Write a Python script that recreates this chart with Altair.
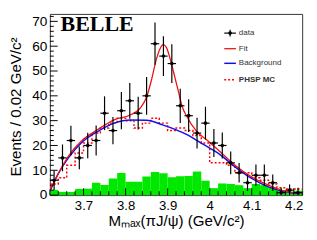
import altair as alt
import pandas as pd

# ---------------- data ----------------
bin_lo = [3.62, 3.64, 3.66, 3.68, 3.70, 3.72, 3.74, 3.76, 3.78, 3.80,
          3.82, 3.84, 3.86, 3.88, 3.90, 3.92, 3.94, 3.96, 3.98, 4.00,
          4.02, 4.04, 4.06, 4.08, 4.10, 4.12, 4.14, 4.16, 4.18, 4.20]

data_y = [6, 15, 22, 15, 20, 22, 33, 26, 34, 38,
          33, 40, 61, 56, 53, 36, 32, 25, 29, 21,
          20, 13, 9, 5, 8, 8, 5, 1, 2, 1]
data_err = [3.9, 5.4, 5.9, 4.6, 5.1, 6.0, 6.8, 5.5, 7.5, 7.2,
            6.6, 7.6, 8.5, 8.0, 7.8, 6.9, 6.6, 6.2, 6.6, 5.6,
            5.2, 4.6, 3.9, 3.3, 4.3, 4.3, 3.3, 2.0, 2.3, 2.0]

green_y = [2.1, 1.3, 1.3, 2.5, 2.6, 5.0, 4.1, 6.7, 8.9, 5.4,
           5.4, 7.5, 9.3, 8.8, 7.2, 7.6, 7.7, 9.5, 5.8, 2.8,
           4.7, 4.5, 4.0, 2.8, 4.5, 4.0, 3.1, 2.0, 1.2, 1.8]

phsp_y = [4.5, 7, 12, 17, 21, 25, 27, 29, 31, 30,
          27, 29, 31, 29, 26, 27, 26, 24, 21, 13,
          13, 12, 9, 9, 7, 6, 4.5, 3, 2.5, 2.5]

bg_x = [3.62, 3.638, 3.665, 3.695, 3.734, 3.773, 3.811, 3.85, 3.888, 3.919,
        3.946, 3.984, 4.023, 4.061, 4.10, 4.138, 4.177, 4.215]
bg_y = [1.5, 8.0, 15.2, 21.1, 25.7, 29.0, 30.3, 30.2, 28.3, 26.4,
        24.4, 20.5, 16.5, 11.3, 6.7, 3.4, 1.4, 0.5]

fit_x = [3.62, 3.665, 3.695, 3.734, 3.773, 3.811, 3.834, 3.85, 3.861, 3.873,
         3.882, 3.889, 3.897, 3.905, 3.915, 3.926, 3.935, 3.946, 3.969, 3.992,
         4.023, 4.061, 4.10, 4.138, 4.177, 4.215]
fit_y = [2.0, 15.9, 21.8, 26.4, 30.3, 32.3, 34.9, 39.5, 46.0, 54.6,
         59.0, 60.6, 59.5, 55.5, 49.0, 41.5, 35.5, 31.6, 25.7, 22.4,
         17.8, 11.9, 7.3, 4.1, 1.7, 0.8]

x_ticks_major = [3.7, 3.8, 3.9, 4.0, 4.1, 4.2]
x_ticks_minor = [3.62, 3.64, 3.66, 3.68, 3.72, 3.74, 3.76, 3.78, 3.82, 3.84,
                 3.86, 3.88, 3.92, 3.94, 3.96, 3.98, 4.02, 4.04, 4.06, 4.08,
                 4.12, 4.14, 4.16, 4.18, 4.22]
y_ticks_major = [0, 10, 20, 30, 40, 50, 60, 70]
y_ticks_minor = [v for v in range(0, 73, 2) if v % 10 != 0]

legend_labels = ["data", "Fit", "Background", "PHSP MC"]
x_title = "Mₘₐₓ(πJ/ψ) (GeV/c²)"
y_title = "Events / 0.02 GeV/c²"
exp_label = "BELLE"

# ---------------- tables ----------------
bin_hi = [round(v + 0.02, 2) for v in bin_lo]
bin_mid = [round(v + 0.01, 3) for v in bin_lo]

hist = pd.DataFrame({"lo": bin_lo, "hi": bin_hi, "n": green_y})
pts = pd.DataFrame({
    "x": bin_mid, "y": data_y,
    "ylo": [max(0, y - e) for y, e in zip(data_y, data_err)],
    "yhi": [y + e for y, e in zip(data_y, data_err)],
    "xl": bin_lo, "xh": bin_hi,
})
phsp = pd.DataFrame({"x": bin_lo + [bin_hi[-1]], "y": phsp_y + [phsp_y[-1]]})
bg = pd.DataFrame({"x": bg_x, "y": bg_y})
fit = pd.DataFrame({"x": fit_x, "y": fit_y})
xt_maj = pd.DataFrame({"v": x_ticks_major})
xt_min = pd.DataFrame({"v": x_ticks_minor})
yt_maj = pd.DataFrame({"v": y_ticks_major})
yt_min = pd.DataFrame({"v": y_ticks_minor})
one = pd.DataFrame({"k": [0]})

W, H = 259, 186
FONT = "Liberation Sans"
xs = alt.Scale(domain=[3.62, 4.22], nice=False, zero=False)
ys = alt.Scale(domain=[0, 73], nice=False, zero=False)

x_axis = alt.Axis(values=x_ticks_major, labelExpr="format(datum.value, '.1~f')",
                  ticks=False, domain=False, grid=False, labelFontSize=13.5,
                  labelPadding=3.5, labelFlush=False, labelOverlap=False,
                  titleY=31)
y_axis = alt.Axis(values=y_ticks_major, format="d",
                  ticks=False, domain=False, grid=False,
                  labelPadding=3, labelFlush=False, labelOverlap=False,
                  titleAngle=270, titleX=-30, titleY=95)


def X(f):
    return alt.X(f, type="quantitative", scale=xs, axis=x_axis, title=x_title)


def Y(f):
    return alt.Y(f, type="quantitative", scale=ys, axis=y_axis, title=y_title)


layers = []
layers.append(alt.Chart(hist).mark_rect(color="#00e800", strokeWidth=0).encode(
    x=X("lo"), x2="hi", y=Y("n"), y2=alt.datum(0)))
layers.append(alt.Chart(phsp).mark_line(interpolate="step-after", color="#ff0000",
                                         strokeWidth=1.5, strokeDash=[2, 2]).encode(
    x=X("x"), y=Y("y")))
layers.append(alt.Chart(bg).mark_line(interpolate="monotone", color="#1010ee",
                                       strokeWidth=1.5).encode(x=X("x"), y=Y("y")))
layers.append(alt.Chart(fit).mark_line(interpolate="monotone", color="#ee1010",
                                        strokeWidth=1.3).encode(x=X("x"), y=Y("y")))
layers.append(alt.Chart(pts).mark_rule(color="black", strokeWidth=1.2).encode(
    x=X("x"), y=Y("ylo"), y2="yhi"))
layers.append(alt.Chart(pts).mark_rule(color="black", strokeWidth=1.2).encode(
    x=X("xl"), x2="xh", y=Y("y")))
layers.append(alt.Chart(pts).mark_point(filled=True, shape="circle", size=14,
                                         color="black", opacity=1).encode(
    x=X("x"), y=Y("y")))
# inward ticks
layers.append(alt.Chart(yt_maj).mark_rule(color="black", strokeWidth=1).encode(
    y=Y("v"), x=alt.value(0), x2=alt.value(8)))
layers.append(alt.Chart(yt_min).mark_rule(color="black", strokeWidth=1).encode(
    y=Y("v"), x=alt.value(0), x2=alt.value(4)))
layers.append(alt.Chart(xt_maj).mark_rule(color="black", strokeWidth=1).encode(
    x=X("v"), y=alt.value(H), y2=alt.value(H - 7)))
layers.append(alt.Chart(xt_min).mark_rule(color="black", strokeWidth=1).encode(
    x=X("v"), y=alt.value(H), y2=alt.value(H - 4)))

# legend
LX0, LX1, LT = 179, 191, 194
leg_y = [19.7, 35.7, 50.7, 67.5]
layers.append(alt.Chart(one).mark_rule(color="black", strokeWidth=1.2).encode(
    x=alt.value(LX0), x2=alt.value(LX1), y=alt.value(leg_y[0])))
layers.append(alt.Chart(one).mark_rule(color="black", strokeWidth=1.2).encode(
    x=alt.value((LX0 + LX1) / 2), y=alt.value(leg_y[0] - 3.5), y2=alt.value(leg_y[0] + 3.5)))
layers.append(alt.Chart(one).mark_point(filled=True, shape="circle", size=14,
                                         color="black", opacity=1).encode(
    x=alt.value((LX0 + LX1) / 2), y=alt.value(leg_y[0])))
layers.append(alt.Chart(one).mark_rule(color="#ee1010", strokeWidth=1.3).encode(
    x=alt.value(LX0), x2=alt.value(LX1), y=alt.value(leg_y[1])))
layers.append(alt.Chart(one).mark_rule(color="#1010ee", strokeWidth=1.5).encode(
    x=alt.value(LX0), x2=alt.value(LX1), y=alt.value(leg_y[2])))
layers.append(alt.Chart(one).mark_rule(color="#ff0000", strokeWidth=1.5, strokeDash=[2, 2]).encode(
    x=alt.value(LX0), x2=alt.value(LX1), y=alt.value(leg_y[3])))
for i, lab in enumerate(legend_labels):
    kw = {"fontWeight": "bold"} if lab == "PHSP MC" else {}
    layers.append(alt.Chart(one).mark_text(align="left", baseline="middle", font=FONT,
                                            fontSize=8.2, color="#333333", **kw).encode(
        x=alt.value(LT), y=alt.value(leg_y[i]), text=alt.value(lab)))

layers.append(alt.Chart(one).mark_text(align="left", baseline="alphabetic",
                                        font="Liberation Serif", fontWeight="bold",
                                        fontSize=22.5, color="black").encode(
    x=alt.value(11), y=alt.value(17.3), text=alt.value(exp_label)))

chart = alt.layer(*layers).properties(
    width=W, height=H,
    autosize=alt.AutoSizeParams(type="none"),
    padding={"left": 43, "top": 3, "right": 7, "bottom": 43},
    background="white",
).configure_view(stroke="#333333", strokeWidth=1).configure_axis(
    labelFont=FONT, labelFontSize=14, labelColor="black",
    titleFont=FONT, titleFontSize=15.5, titleFontWeight="normal",
    titleColor="black", titleBaseline="alphabetic", tickSize=0,
)

chart.save("out.html", embed_options={"renderer": "svg", "actions": False})
